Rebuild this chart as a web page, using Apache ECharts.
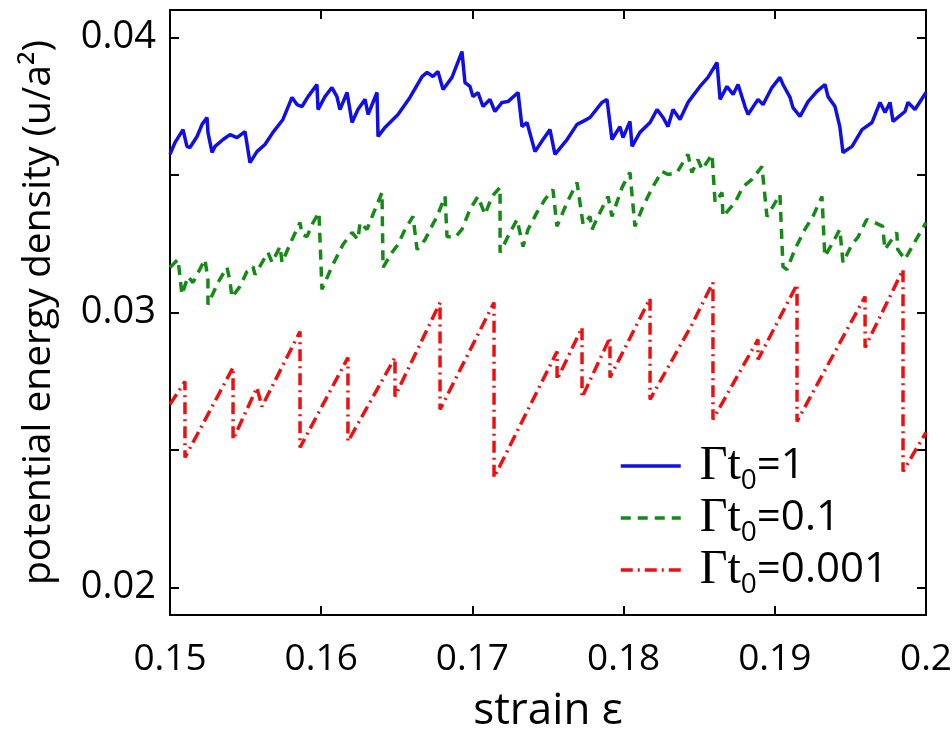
<!DOCTYPE html>
<html>
<head>
<meta charset="utf-8">
<script src="https://cdn.jsdelivr.net/npm/echarts@6/dist/echarts.min.js"></script>
<style>
html, body { margin: 0; padding: 0; background: #fff; }
#main { width: 952px; height: 735px; }
</style>
</head>
<body>
<div id="main"></div>
<script>
// Γt0 = 1 (solid blue)
var strain1 = [0.15, 0.15033, 0.15086, 0.15112, 0.15132, 0.15179, 0.15212, 0.15245, 0.15251, 0.15278, 0.15298, 0.15351, 0.15397, 0.15443, 0.15496, 0.15529, 0.15575, 0.15628, 0.15681, 0.15747, 0.15807, 0.1584, 0.15873, 0.15913, 0.15972, 0.15979, 0.16025, 0.16071, 0.16104, 0.16124, 0.16171, 0.16204, 0.16243, 0.1629, 0.1631, 0.16369, 0.16376, 0.16422, 0.16508, 0.16587, 0.16667, 0.167, 0.16739, 0.16772, 0.16806, 0.16865, 0.16931, 0.16951, 0.16984, 0.17004, 0.17037, 0.1707, 0.17116, 0.17149, 0.17196, 0.17235, 0.17302, 0.17328, 0.17361, 0.17414, 0.17467, 0.17513, 0.17546, 0.17626, 0.17692, 0.17732, 0.17778, 0.17857, 0.1789, 0.17923, 0.17976, 0.17996, 0.18042, 0.18056, 0.18108, 0.18175, 0.18221, 0.18261, 0.18294, 0.18327, 0.18373, 0.18426, 0.18505, 0.18558, 0.18618, 0.18638, 0.18684, 0.18724, 0.18757, 0.18803, 0.18823, 0.18889, 0.18922, 0.18981, 0.19034, 0.19054, 0.19101, 0.1912, 0.19167, 0.1922, 0.19279, 0.19332, 0.19352, 0.19398, 0.1943, 0.19451, 0.19511, 0.19577, 0.19643, 0.19696, 0.19729, 0.19762, 0.19782, 0.19861, 0.19881, 0.19927, 0.2];
var energy1 = [0.03575, 0.03618, 0.03665, 0.03604, 0.036, 0.0364, 0.03684, 0.03709, 0.03655, 0.03582, 0.03604, 0.03629, 0.03647, 0.03636, 0.03658, 0.03545, 0.03585, 0.03611, 0.03655, 0.03702, 0.03782, 0.03756, 0.03749, 0.03785, 0.03829, 0.03738, 0.03785, 0.03818, 0.03785, 0.03738, 0.038, 0.03691, 0.03738, 0.03775, 0.0372, 0.038, 0.0364, 0.03673, 0.0372, 0.03782, 0.03858, 0.03873, 0.03858, 0.03876, 0.03811, 0.03855, 0.03949, 0.03836, 0.03822, 0.03785, 0.038, 0.03749, 0.03775, 0.03731, 0.03764, 0.03767, 0.038, 0.03676, 0.03691, 0.03585, 0.03629, 0.03665, 0.03575, 0.03629, 0.03684, 0.03695, 0.03709, 0.03764, 0.03775, 0.03629, 0.03676, 0.03636, 0.03695, 0.03604, 0.03655, 0.03691, 0.03738, 0.03709, 0.03676, 0.03738, 0.03702, 0.03764, 0.03822, 0.03855, 0.03909, 0.03775, 0.03822, 0.03793, 0.03829, 0.03749, 0.0372, 0.03775, 0.03756, 0.03818, 0.03855, 0.03829, 0.03782, 0.03745, 0.03713, 0.03767, 0.03804, 0.03829, 0.03785, 0.03749, 0.03676, 0.03582, 0.03604, 0.03665, 0.03691, 0.03764, 0.03727, 0.03764, 0.03695, 0.03731, 0.03764, 0.03738, 0.038];

// Γt0 = 0.1 (dashed green)
var strain2 = [0.15, 0.15053, 0.15066, 0.15079, 0.15119, 0.15152, 0.15231, 0.15251, 0.15251, 0.15317, 0.15377, 0.15397, 0.1541, 0.15463, 0.15509, 0.15549, 0.15562, 0.15648, 0.15675, 0.15728, 0.15741, 0.15807, 0.1586, 0.15873, 0.15906, 0.15946, 0.15985, 0.16005, 0.16071, 0.16144, 0.16204, 0.16243, 0.16257, 0.16303, 0.16356, 0.16402, 0.16409, 0.16468, 0.16508, 0.16554, 0.16607, 0.16634, 0.16687, 0.1672, 0.16766, 0.16819, 0.16832, 0.16885, 0.16931, 0.16984, 0.17037, 0.17083, 0.1713, 0.17183, 0.17183, 0.17235, 0.17295, 0.17335, 0.17368, 0.17427, 0.1748, 0.17533, 0.17559, 0.17626, 0.17692, 0.17732, 0.17778, 0.17791, 0.17844, 0.17897, 0.17923, 0.1799, 0.18042, 0.18075, 0.18128, 0.18194, 0.18254, 0.18294, 0.18353, 0.18426, 0.18452, 0.18492, 0.18519, 0.18585, 0.18605, 0.18651, 0.18657, 0.18737, 0.1879, 0.18849, 0.18915, 0.18948, 0.19034, 0.19054, 0.19081, 0.19132, 0.19199, 0.19252, 0.19312, 0.19331, 0.19384, 0.1943, 0.19451, 0.19509, 0.19549, 0.19608, 0.19661, 0.19714, 0.19728, 0.19807, 0.19813, 0.19861, 0.19927, 0.2];
var energy2 = [0.03164, 0.03193, 0.03131, 0.03065, 0.03131, 0.03109, 0.03193, 0.0312, 0.03029, 0.03109, 0.03164, 0.03113, 0.03055, 0.03095, 0.03149, 0.03167, 0.03138, 0.03218, 0.03182, 0.0324, 0.03182, 0.03265, 0.03327, 0.03284, 0.03276, 0.03327, 0.03364, 0.03084, 0.03167, 0.03247, 0.03291, 0.03265, 0.03327, 0.03302, 0.03375, 0.03436, 0.03164, 0.03218, 0.03247, 0.03302, 0.03349, 0.03229, 0.03265, 0.03302, 0.03349, 0.03422, 0.03276, 0.03273, 0.03302, 0.03375, 0.03422, 0.03356, 0.03422, 0.03455, 0.03218, 0.03276, 0.03338, 0.0324, 0.03302, 0.03364, 0.03411, 0.03447, 0.03313, 0.034, 0.03473, 0.0332, 0.03349, 0.03302, 0.03364, 0.03422, 0.03349, 0.03455, 0.03509, 0.03313, 0.03385, 0.03458, 0.03513, 0.03502, 0.03509, 0.03575, 0.03509, 0.03556, 0.0352, 0.03575, 0.034, 0.03436, 0.03349, 0.034, 0.03458, 0.03484, 0.03531, 0.03349, 0.03429, 0.03167, 0.03156, 0.03229, 0.03302, 0.03349, 0.03422, 0.03204, 0.03255, 0.03302, 0.03182, 0.03247, 0.03273, 0.03338, 0.03327, 0.03313, 0.03229, 0.03291, 0.03229, 0.03193, 0.03258, 0.03327];

// Γt0 = 0.001 (dash-dot red)
var strain3 = [0.15, 0.15099, 0.15099, 0.15417, 0.15417, 0.15575, 0.15608, 0.1586, 0.1586, 0.16177, 0.16177, 0.16488, 0.16488, 0.16786, 0.16786, 0.17143, 0.17143, 0.1756, 0.1756, 0.17725, 0.17725, 0.1791, 0.1791, 0.18175, 0.18175, 0.18452, 0.18591, 0.18591, 0.18889, 0.18889, 0.19147, 0.19147, 0.19597, 0.19597, 0.19848, 0.19848, 0.2];
var energy3 = [0.02666, 0.02749, 0.02473, 0.028, 0.02538, 0.02727, 0.02658, 0.02931, 0.02509, 0.02836, 0.02531, 0.02836, 0.02695, 0.03036, 0.02647, 0.03036, 0.024, 0.02858, 0.02756, 0.02945, 0.02691, 0.02909, 0.02764, 0.03051, 0.02684, 0.02956, 0.03109, 0.02611, 0.02902, 0.02829, 0.03102, 0.02604, 0.03058, 0.02873, 0.03156, 0.02422, 0.02564];

var seriesNames = ['Γt0=1', 'Γt0=0.1', 'Γt0=0.001'];
var xTicks = [0.15, 0.16, 0.17, 0.18, 0.19, 0.2];
var yTicks = [0.02, 0.025, 0.03, 0.035, 0.04];
var yLabels = [0.02, 0.03, 0.04];

function pairs(xs, ys) {
    var out = [];
    for (var i = 0; i < xs.length; i++) out.push([xs[i], ys[i]]);
    return out;
}

var font = 'Open Sans';
var myChart = echarts.init(document.getElementById('main'));

var tickStyle = { show: true, inside: true, length: 9, lineStyle: { color: '#000', width: 2 } };

var option = {
    animation: false,
    grid: {
        left: 170, right: 26, top: 10, bottom: 120,
        outerBoundsMode: 'none',
        show: true, borderColor: '#000', borderWidth: 2, backgroundColor: '#fff'
    },
    legend: {
        orient: 'vertical',
        left: 614,
        top: 432,
        itemWidth: 60,
        itemHeight: 14,
        itemGap: -6,
        itemStyle: { opacity: 0 },
        lineStyle: { width: 3.5 },
        data: seriesNames,
        formatter: function (name) {
            return '{g|Γt}{s|0}{n|=' + name.split('=')[1] + '}';
        },
        textStyle: {
            padding: [0, 0, 0, 14],
            rich: {
                g: { fontFamily: 'Liberation Serif', fontSize: 48, color: '#000', lineHeight: 46 },
                s: { fontFamily: font, fontSize: 28, color: '#000', padding: [30, 0, 0, 0], lineHeight: 46 },
                n: { fontFamily: font, fontSize: 42, color: '#000', lineHeight: 46 }
            }
        }
    },
    xAxis: [{
        type: 'value',
        min: 0.15, max: 0.2, interval: 0.01,
        name: 'strain ε',
        nameLocation: 'middle',
        nameGap: 74,
        nameTextStyle: { fontFamily: font, fontSize: 44, color: '#000' },
        axisLine: { show: true, lineStyle: { color: '#000', width: 2 } },
        axisTick: tickStyle,
        splitLine: { show: false },
        axisLabel: {
            margin: 26, fontFamily: font, fontSize: 37, color: '#000',
            customValues: xTicks,
            formatter: function (v) { return String(+v.toFixed(2)); }
        }
    }, {
        type: 'value', position: 'top',
        min: 0.15, max: 0.2, interval: 0.01,
        axisLine: { show: false },
        axisTick: tickStyle,
        axisLabel: { show: false },
        splitLine: { show: false }
    }],
    yAxis: [{
        type: 'value',
        min: 0.019, max: 0.041,
        name: 'potential energy density (u/a²)',
        nameLocation: 'middle',
        nameGap: 112,
        nameTextStyle: { fontFamily: font, fontSize: 39, color: '#000' },
        axisLine: { show: true, lineStyle: { color: '#000', width: 2 } },
        axisTick: Object.assign({ customValues: yTicks }, tickStyle),
        splitLine: { show: false },
        axisLabel: {
            margin: 14, fontFamily: font, fontSize: 38, color: '#000',
            customValues: yLabels,
            formatter: function (v) { return v.toFixed(2); }
        }
    }, {
        type: 'value', position: 'right',
        min: 0.019, max: 0.041,
        axisLine: { show: false },
        axisTick: Object.assign({ customValues: yTicks }, tickStyle),
        axisLabel: { show: false },
        splitLine: { show: false }
    }],
    series: [
        {
            name: seriesNames[0], type: 'line', symbol: 'none',
            lineStyle: { color: '#1010e6', width: 3.5 },
            itemStyle: { color: '#1010e6' },
            data: pairs(strain1, energy1)
        },
        {
            name: seriesNames[1], type: 'line', symbol: 'none',
            lineStyle: { color: '#168a16', width: 3.5, type: [10, 7] },
            itemStyle: { color: '#168a16' },
            data: pairs(strain2, energy2)
        },
        {
            name: seriesNames[2], type: 'line', symbol: 'none',
            lineStyle: { color: '#ec1010', width: 3.5, type: [12, 5, 2, 5] },
            itemStyle: { color: '#ec1010' },
            data: pairs(strain3, energy3)
        }
    ]
};
myChart.setOption(option);
</script>
</body>
</html>
